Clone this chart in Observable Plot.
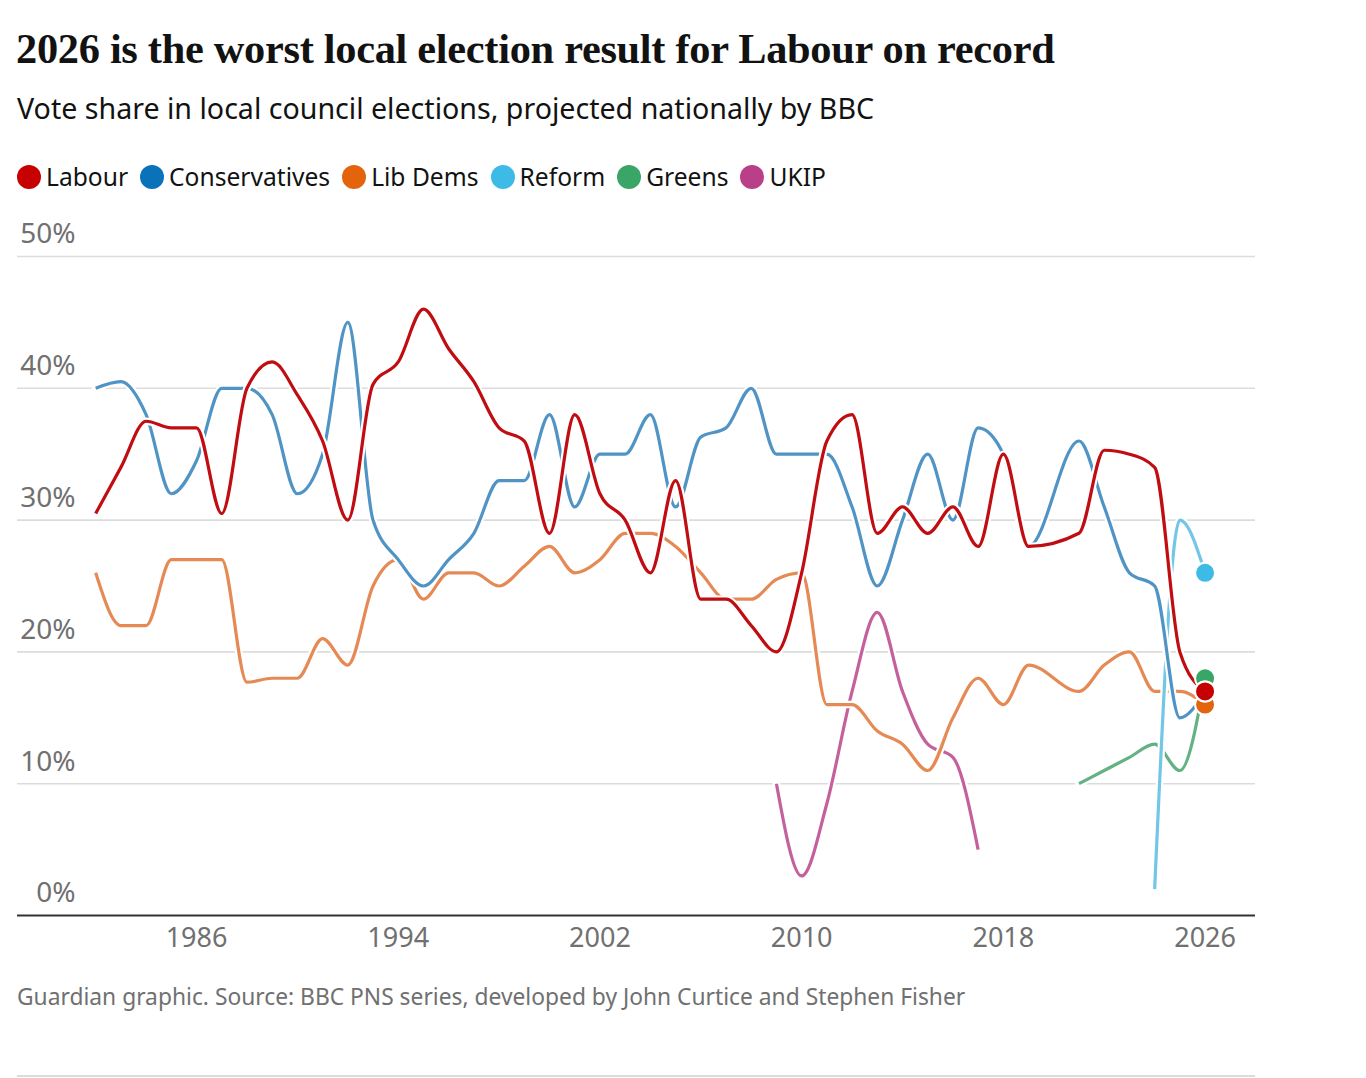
<!DOCTYPE html>
<html>
<head>
<meta charset="utf-8">
<script src="https://cdn.jsdelivr.net/npm/d3@7"></script>
<script src="https://cdn.jsdelivr.net/npm/@observablehq/plot@0.6"></script>
<style>
  html, body { margin: 0; padding: 0; background: #fff; }
  #wrap { position: relative; width: 1366px; height: 1078px; overflow: hidden; font-family: "Noto Sans", sans-serif; }
  #title { position: absolute; left: 16px; top: 24px; margin: 0; font-family: "Liberation Serif", serif; font-weight: 700; font-size: 42.4px; color: #121212; white-space: nowrap; letter-spacing: -0.3px; }
  #subtitle { position: absolute; left: 17px; top: 88px; margin: 0; font-size: 28.6px; color: #121212; white-space: nowrap; }
  #legend { position: absolute; left: 17px; top: 160px; display: flex; align-items: center; font-size: 24.6px; color: #121212; white-space: nowrap; }
  .item { display: flex; align-items: center; margin-right: 12px; }
  .sw { width: 24px; height: 24px; border-radius: 50%; margin-right: 5px; }
  #chart { position: absolute; left: 0; top: 200px; }
  #caption { position: absolute; left: 17px; top: 981px; font-size: 22.8px; color: #707070; white-space: nowrap; }
  #rule { position: absolute; left: 17px; top: 1075px; width: 1238px; height: 2px; background: #dcdcdc; }
</style>
</head>
<body>
<div id="wrap">
  <h1 id="title">2026 is the worst local election result for Labour on record</h1>
  <div id="subtitle">Vote share in local council elections, projected nationally by BBC</div>
  <div id="legend"></div>
  <div id="chart"></div>
  <div id="caption">Guardian graphic. Source: BBC PNS series, developed by John Curtice and Stephen Fisher</div>
  <div id="rule"></div>
</div>
<script>
// ---- Data ----
const parties = ["Labour", "Conservatives", "Lib Dems", "Reform", "Greens", "UKIP"];
const dotColors = ["#c70000", "#0a72b8", "#e3640c", "#3dbbe6", "#39a566", "#b83f88"];
const lineColors = ["#c00d12", "#4f94c4", "#e58a55", "#72c6e6", "#62b283", "#c4609c"];

const mainYears = [1982,1983,1984,1985,1986,1987,1988,1989,1990,1991,1992,1993,1994,1995,1996,1997,1998,1999,2000,2001,2002,2003,2004,2005,2006,2007,2008,2009,2010,2011,2012,2013,2014,2015,2016,2017,2018,2019,2021,2022,2023,2024,2025,2026];
const labour = [30.5,34,37.5,37,37,30.5,40,42,39.5,36,30,40.3,42,46,43,40.5,37,36,29,38,32,30,26,33,24,24,22,20,26,36,38,29,31,29,31,28,35,28,29,35.3,35,34,20,17];
const conservatives = [40,40.5,38,32,34.5,40,40,38,32,35,45,30,27,25,27,29,33,33,38,31,35,35,38,31,36.3,37,40,35,35,35,31,25,30,35,30,37,35,28,36,31,26,25,15,17];
const libDems = [26,22,22,27,27,27,17.7,18,18,21,19,25,27,24,26,26,25,26.5,28,26,27,29,29,28,26,24,24,25.5,26,16,16,14,13,11,15,18,16,19,17,19,20,17,17,16];

const reformYears = [2024,2025,2026];
const reform = [2,30,26];
const greensYears = [2021,2022,2023,2024,2025,2026];
const greens = [10,11,12,13,11,18];
const ukipYears = [2009,2010,2011,2012,2013,2014,2015,2016,2017];
const ukip = [10,3,8.5,17,23,17,13,12,5];

const xTicks = [1986,1994,2002,2010,2018,2026];
const yTicks = [0,10,20,30,40,50];

// ---- Build tables ----
const toRows = (years, values, party) => years.map((year, i) => ({year, v: values[i], party}));
const series = {
  "Labour": toRows(mainYears, labour, "Labour"),
  "Conservatives": toRows(mainYears, conservatives, "Conservatives"),
  "Lib Dems": toRows(mainYears, libDems, "Lib Dems"),
  "Reform": toRows(reformYears, reform, "Reform"),
  "Greens": toRows(greensYears, greens, "Greens"),
  "UKIP": toRows(ukipYears, ukip, "UKIP")
};
const lineColor = Object.fromEntries(parties.map((p, i) => [p, lineColors[i]]));
const dotColor = Object.fromEntries(parties.map((p, i) => [p, dotColors[i]]));

// Legend
const legend = document.getElementById("legend");
parties.forEach((p, i) => {
  const it = document.createElement("div");
  it.className = "item";
  it.innerHTML = `<span class="sw" style="background:${dotColors[i]}"></span><span>${p}</span>`;
  legend.appendChild(it);
});

// Draw order (bottom to top)
const lineOrder = ["UKIP", "Greens", "Lib Dems", "Reform", "Conservatives", "Labour"];
const dotOrder = ["Reform", "Greens", "Lib Dems", "Conservatives", "Labour"];

const lineMarks = lineOrder.flatMap(p => [
  Plot.line(series[p], {x: "year", y: "v", curve: "monotone-x", stroke: "white", strokeWidth: 7.5, strokeLinecap: "round"}),
  Plot.line(series[p], {x: "year", y: "v", curve: "monotone-x", stroke: lineColor[p], strokeWidth: 3.2, strokeLinecap: "butt"})
]);
const endRows = dotOrder.map(p => series[p][series[p].length - 1]);

const chart = Plot.plot({
  width: 1366,
  height: 760,
  marginLeft: 17,
  marginRight: 111,
  marginTop: 56,
  marginBottom: 45,
  x: {domain: [1978.9, 2028], axis: null},
  y: {domain: [0, 50], axis: null},
  style: {fontFamily: "'Noto Sans', sans-serif", background: "white", overflow: "visible"},
  marks: [
    Plot.ruleY(yTicks.filter(d => d > 0), {y: d => d, stroke: "#dcdcdc", strokeWidth: 1.6}),
    Plot.text(yTicks, {y: d => d, text: d => d + "%", frameAnchor: "left", dx: 58, textAnchor: "end", lineAnchor: "middle", dy: -22, fontSize: 28, fill: "#707070"}),
    Plot.text(xTicks, {x: d => d, text: d => String(d), frameAnchor: "bottom", lineAnchor: "middle", dy: 23, fontSize: 27, fill: "#707070"}),
    ...lineMarks,
    Plot.dot(endRows, {x: "year", y: "v", r: 10, fill: d => dotColor[d.party], stroke: "white", strokeWidth: 2}),
    Plot.ruleY([0], {stroke: "#333333", strokeWidth: 2.2})
  ]
});
document.getElementById("chart").appendChild(chart);
</script>
</body>
</html>
